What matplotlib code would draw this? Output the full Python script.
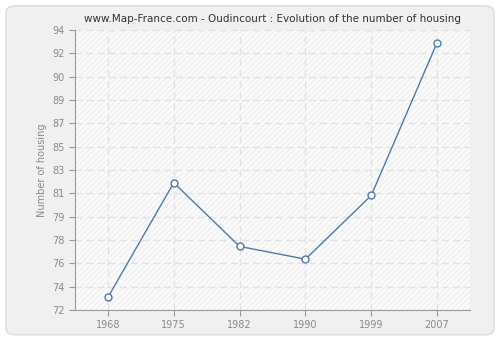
import numpy as np
import matplotlib.pyplot as plt
import matplotlib as mpl
from matplotlib.patches import FancyBboxPatch, Rectangle

mpl.rcParams.update({'font.family': 'DejaVu Sans', 'hatch.linewidth': 0.5})

years = ['1968', '1975', '1982', '1990', '1999', '2007']
housing = [73, 82, 77, 76, 81, 93]
yticks = np.linspace(72, 94, 13)

LINE = '#5079ab'
GRID = '#e2e2e2'
TXT = '#8a8a8a'

fig = plt.figure(figsize=(5.0, 3.4), dpi=100)
fig.patch.set_facecolor('white')
bg = FancyBboxPatch((0.012, 0.015), 0.976, 0.968,
                    boxstyle='round,pad=0,rounding_size=0.02',
                    transform=fig.transFigure, facecolor='#f0f0f0',
                    edgecolor='#dcdcdc', linewidth=1.0, zorder=-5)
fig.add_artist(bg)

ax = fig.add_axes([0.15, 0.088, 0.79, 0.824])
ax.set_zorder(2)
ax.set_facecolor('#fafafa')
ax.add_patch(Rectangle((0, 0), 1, 1, transform=ax.transAxes, facecolor='#fafafa',
                       edgecolor='#e9e9e9', hatch='//////', linewidth=0, zorder=0))

x = np.arange(len(years))
ax.plot(x, housing, color=LINE, linewidth=1.0, marker='o', markersize=5,
        markerfacecolor='white', markeredgecolor=LINE, markeredgewidth=1.0, zorder=3)

ax.set_xlim(-0.5, len(years) - 0.5)
ax.set_ylim(72, 94)
ax.set_xticks(x)
ax.set_xticklabels(years)
ax.set_yticks(yticks)
ax.set_yticklabels([str(int(np.floor(v + 0.5))) for v in yticks])

ax.grid(True, color=GRID, linestyle=(0, (5, 3)), linewidth=1.0, zorder=1)
ax.set_axisbelow(True)
for s in ['top', 'right']:
    ax.spines[s].set_visible(False)
for s in ['left', 'bottom']:
    ax.spines[s].set_color('#999999')
ax.tick_params(colors='#999999', labelcolor=TXT, labelsize=7, length=4, width=0.8)

ax.set_ylabel('Number of housing', fontsize=7, color=TXT)
ax.set_title('www.Map-France.com - Oudincourt : Evolution of the number of housing',
             fontsize=7.5, color='#333333', pad=6)

fig.savefig('out.png', dpi=100)
